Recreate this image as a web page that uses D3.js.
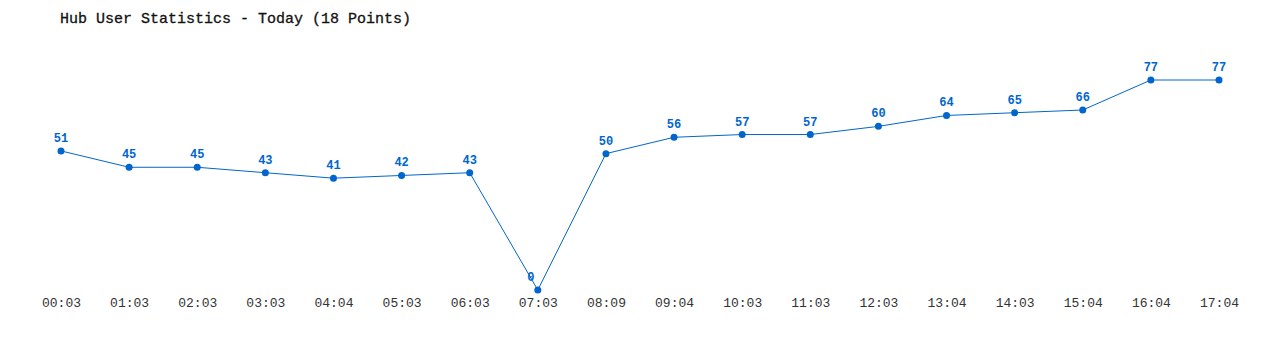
<!DOCTYPE html>
<html>
<head>
<meta charset="utf-8">
<script src="https://cdn.jsdelivr.net/npm/d3@7"></script>
<style>
  body { margin: 0; background: #fff; }
  svg text { font-family: "Liberation Mono", "DejaVu Sans Mono", monospace; }
</style>
</head>
<body>
<div id="chart"></div>
<script>
const times = ['00:03', '01:03', '02:03', '03:03', '04:04', '05:03', '06:03', '07:03', '08:09',
  '09:04', '10:03', '11:03', '12:03', '13:04', '14:03', '15:04', '16:04', '17:04']
const users = [51, 45, 45, 43, 41, 42, 43, 0, 50, 56, 57, 57, 60, 64, 65, 66, 77, 77]

const width = 1280
const height = 350
const color = '#0066cc'

const svg = d3.select('#chart')
  .append('svg')
  .attr('width', width)
  .attr('height', height)

svg.append('text')
  .attr('x', 60)
  .attr('y', 23)
  .attr('font-size', 15)
  .attr('fill', '#111')
  .attr('stroke', '#111')
  .attr('stroke-width', 0.3)
  .text('Hub User Statistics - Today (18 Points)')

const x = d3.scalePoint().domain(times).range([61, 1219])
const y = d3.scaleLinear().domain([0, 77]).range([290, 80])

const axis = svg.append('g')
  .attr('transform', 'translate(0, 298)')
  .call(d3.axisBottom(x).tickSize(0).tickPadding(0))
axis.select('.domain').remove()
axis.selectAll('text')
  .attr('font-family', '"Liberation Mono", "DejaVu Sans Mono", monospace')
  .attr('font-size', 13)
  .attr('fill', '#333')
  .attr('dy', '0.71em')

const line = d3.line()
  .x((d, i) => x(times[i]))
  .y(d => y(d))

svg.append('path')
  .datum(users)
  .attr('d', line)
  .attr('fill', 'none')
  .attr('stroke', color)
  .attr('stroke-width', 1)

svg.selectAll('circle')
  .data(users)
  .enter()
  .append('circle')
  .attr('cx', (d, i) => x(times[i]))
  .attr('cy', d => y(d))
  .attr('r', 3.5)
  .attr('fill', color)

svg.selectAll('.val')
  .data(users)
  .enter()
  .append('text')
  .attr('class', 'val')
  .attr('x', (d, i) => x(times[i]) - (d === 0 ? 7 : 0))
  .attr('y', d => y(d) - 9)
  .attr('text-anchor', 'middle')
  .attr('font-size', 12)
  .attr('font-weight', 'bold')
  .attr('fill', color)
  .text(d => d)
</script>
</body>
</html>
